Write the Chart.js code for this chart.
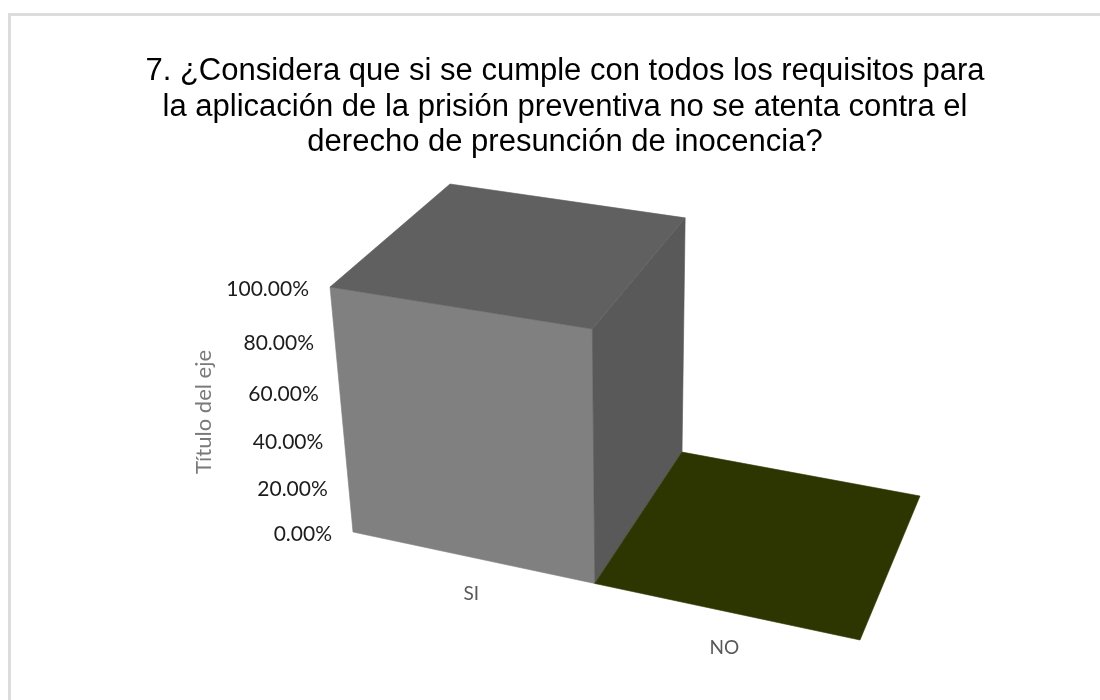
<!DOCTYPE html>
<html>
<head>
<meta charset="utf-8">
<title>Prisión preventiva</title>
<script src="https://cdn.jsdelivr.net/npm/chart.js@4/dist/chart.umd.min.js"></script>
<style>
    html, body { margin: 0; padding: 0; background: #fff; overflow: hidden; }
    #frame { position: absolute; left: 8px; top: 13px; right: 0; bottom: 0; border-top: 3px solid #dcdcdc; border-left: 3px solid #dcdcdc; }
    #wrap { position: absolute; left: 0; top: 0; width: 1100px; height: 700px; }
</style>
</head>
<body>
<div id="frame"></div>
<div id="wrap"><canvas id="chart"></canvas></div>
<script>
const categories = ['SI', 'NO'];
const seriesValues = [1, 0];
const yTickStep = 0.2;
const chartTitle = [
    '7. ¿Considera que si se cumple con todos los requisitos para',
    'la aplicación de la prisión preventiva no se atenta contra el',
    'derecho de presunción de inocencia?'
];
const yAxisTitle = 'Título del eje';

const frontColors = ['#808080', '#2e3600'];
const sideColors = ['#595959', '#2e3600'];
const topColors = ['#606060', '#2e3600'];

// esquinas de la caja 3D en pantalla: [frente, fondo] -> [piso izq, piso der, techo izq, techo der]
const box = [
    [[353, 532], [860, 640], [330, 287], [880, 375]],
    [[465, 412], [920, 496], [450, 184], [943, 255]]
];
// la perspectiva hace que el lado derecho y el techo queden mas cerca
const rightWeight = 0.912;
const topWeight = 0.9;

function project(u, v, d) {
    const c = box[d];
    const w = [(1 - u) * (1 - v), u * (1 - v) * rightWeight, (1 - u) * v * topWeight, u * v * rightWeight * topWeight];
    const sum = w[0] + w[1] + w[2] + w[3];
    return [
        (w[0] * c[0][0] + w[1] * c[1][0] + w[2] * c[2][0] + w[3] * c[3][0]) / sum,
        (w[0] * c[0][1] + w[1] * c[1][1] + w[2] * c[2][1] + w[3] * c[3][1]) / sum
    ];
}

function fillFace(ctx, points, color) {
    ctx.beginPath();
    points.forEach((p, i) => {
        if (i === 0) ctx.moveTo(p[0], p[1]);
        else ctx.lineTo(p[0], p[1]);
    });
    ctx.closePath();
    ctx.fillStyle = color;
    ctx.strokeStyle = color;
    ctx.lineWidth = 0.6;
    ctx.fill();
    ctx.stroke();
}

const bars3d = {
    id: 'bars3d',
    beforeDatasetDraw(chart, args) {
        const ctx = chart.ctx;
        const area = chart.chartArea;
        ctx.save();
        args.meta.data.forEach((bar, i) => {
            const l = (bar.x - bar.width / 2 - area.left) / area.width;
            const r = (bar.x + bar.width / 2 - area.left) / area.width;
            const b = (area.bottom - bar.base) / area.height;
            const t = (area.bottom - bar.y) / area.height;
            if (t > b) {
                fillFace(ctx, [project(l, b, 0), project(r, b, 0), project(r, t, 0), project(l, t, 0)], frontColors[i]);
                fillFace(ctx, [project(r, b, 0), project(r, b, 1), project(r, t, 1), project(r, t, 0)], sideColors[i]);
            }
            fillFace(ctx, [project(l, t, 0), project(r, t, 0), project(r, t, 1), project(l, t, 1)], topColors[i]);
        });
        ctx.restore();
        return false;
    },
    afterDraw(chart) {
        const ctx = chart.ctx;
        const area = chart.chartArea;
        const xScale = chart.scales.x;
        const yScale = chart.scales.y;
        ctx.save();
        ctx.textBaseline = 'middle';

        // etiquetas del eje de valores, siguen la arista inclinada
        ctx.font = '21px Lato';
        ctx.fillStyle = '#1c1c1c';
        ctx.textAlign = 'right';
        yScale.ticks.forEach((tick, i) => {
            const v = (area.bottom - yScale.getPixelForTick(i)) / area.height;
            const p = project(0, v, 0);
            ctx.fillText(tick.label, p[0] - 21, p[1] + 2.5);
        });

        // etiquetas de categorias
        ctx.fillStyle = '#595959';
        ctx.font = '19px Lato';
        ctx.textAlign = 'center';
        categories.forEach((name, i) => {
            const u = (xScale.getPixelForTick(i) - area.left) / area.width;
            const p = project(u, 0, 0);
            ctx.fillText(name, p[0], p[1] + 37);
        });

        // titulo del eje
        ctx.fillStyle = '#7a7a7a';
        ctx.font = '22px Lato';
        ctx.translate(204, 412);
        ctx.rotate(-Math.PI / 2);
        ctx.fillText(yScale.options.title.text, 0, 0);
        ctx.restore();
    }
};

new Chart(document.getElementById('chart'), {
    type: 'bar',
    data: {
        labels: categories,
        datasets: [{
            data: seriesValues,
            backgroundColor: frontColors,
            barPercentage: 1,
            categoryPercentage: 1
        }]
    },
    options: {
        responsive: true,
        maintainAspectRatio: false,
        animation: false,
        // el titulo no esta centrado en la ventana, sino en 565
        layout: { padding: { left: 30, right: 0, top: 0, bottom: 0 } },
        plugins: {
            legend: { display: false },
            tooltip: { enabled: false },
            title: {
                display: true,
                text: chartTitle,
                color: '#000',
                font: { family: 'Liberation Sans', size: 31, weight: 'normal', lineHeight: 1.145 },
                padding: { top: 54, bottom: 20 }
            }
        },
        scales: {
            x: { display: false },
            y: {
                display: false,
                min: 0,
                max: 1,
                title: { text: yAxisTitle },
                ticks: {
                    stepSize: yTickStep,
                    callback: value => (value * 100).toFixed(2) + '%'
                }
            }
        }
    },
    plugins: [bars3d]
});
</script>
</body>
</html>
